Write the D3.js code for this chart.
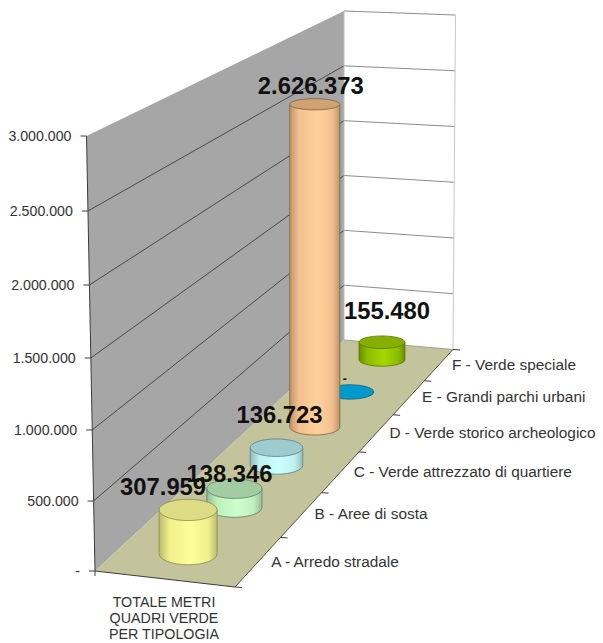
<!DOCTYPE html>
<html>
<head>
<meta charset="utf-8">
<script src="https://cdn.jsdelivr.net/npm/d3@7"></script>
<style>
html,body{margin:0;padding:0;background:#fff}
svg{display:block}
text{font-family:"Liberation Sans",Arial,sans-serif}
</style>
</head>
<body>
<svg id="chart" width="603" height="643"></svg>
<script>
// Square metres of urban green by type
const categories = [
  "A - Arredo stradale",
  "B - Aree di sosta",
  "C - Verde attrezzato di quartiere",
  "D - Verde storico archeologico",
  "E - Grandi parchi urbani",
  "F - Verde speciale"
];
const values = [307959, 138346, 136723, 2626373, 0, 155480];
const valueTicks = [0, 500000, 1000000, 1500000, 2000000, 2500000, 3000000];
const axisTitle = ["TOTALE METRI", "QUADRI VERDE", "PER TIPOLOGIA"];

// Cylinder palette: side highlight, side shadow, cap
const sideLight = ["#ffff99", "#ccffcc", "#ccffff", "#ffd09c", "#0099cc", "#a4d800"];
const sideMid   = ["#f0f08c", "#bdf0bd", "#bdf0f0", "#f2c08e", "#0099cc", "#8cbc00"];
const sideDark  = ["#bcbc70", "#94bc94", "#94bcbc", "#c0946a", "#0087b4", "#6a8e00"];
const capFill   = ["#dcdc84", "#a3cca3", "#9ecbd0", "#cfa274", "#0099cc", "#86b000"];
const edgeFill  = ["#8a8a50", "#5f7f5f", "#5f8080", "#7f6040", "#00648a", "#5a7400"];

const svg = d3.select("#chart");
const defs = svg.append("defs");

// Floor plane corners
const FL = [95, 571], FR = [235, 587], BR = [453, 349.5], BL = [344, 340];

// Projective map of the unit floor square onto the page
function makeFloor(p0, p1, p2, p3) {
  const dx1 = p1[0] - p2[0], dx2 = p3[0] - p2[0], sx = p0[0] - p1[0] + p2[0] - p3[0];
  const dy1 = p1[1] - p2[1], dy2 = p3[1] - p2[1], sy = p0[1] - p1[1] + p2[1] - p3[1];
  const den = dx1 * dy2 - dx2 * dy1;
  const g = (sx * dy2 - dx2 * sy) / den, h = (dx1 * sy - sx * dy1) / den;
  const a = p1[0] - p0[0] + g * p1[0], b = p3[0] - p0[0] + h * p3[0];
  const d = p1[1] - p0[1] + g * p1[1], e = p3[1] - p0[1] + h * p3[1];
  return (s, t) => {
    const w = g * s + h * t + 1;
    return { x: (a * s + b * t + p0[0]) / w, y: (d * s + e * t + p0[1]) / w, w };
  };
}
const floor = makeFloor(FL, FR, BR, BL);

// Wall edge scales
const leftY = d3.scaleLinear().domain(valueTicks).range([571, 501, 430, 358, 285, 211, 136]);
const leftX = d3.scaleLinear().domain([0, 3000000]).range([95, 86.5]);
const backY = d3.scaleLinear().domain([0, 3000000]).range([340, 11]);
const rightY = d3.scaleLinear().domain([0, 3000000]).range([349.5, 15]);
const rightX = d3.scaleLinear().domain([0, 3000000]).range([453, 455.5]);
const BACK_X = 344;

// Depth-dependent height of the full value range, from the perspective weight
const wBack = floor(0, 1).w;
const fullHeight = d3.scaleLinear().domain([1, 1 / wBack]).range([435, 329]);
const valueFrac = d3.scaleLinear().domain([0, 3000000]).range([0, 1]);

const locale = d3.formatLocale({ decimal: ",", thousands: ".", grouping: [3], currency: ["", ""] });
const fmt0 = locale.format(",d");
const fmt = v => v === 0 ? "-" : fmt0(v);

// Walls
svg.append("path")
  .attr("d", `M${leftX(0)},${leftY(0)}L${leftX(3e6)},${leftY(3e6)}L${BACK_X},${backY(3e6)}L${BACK_X},${backY(0)}Z`)
  .attr("fill", "#a6a6a6");
svg.append("path")
  .attr("d", `M${BACK_X},${backY(3e6)}L${rightX(3e6)},${rightY(3e6)}L${rightX(0)},${rightY(0)}L${BACK_X},${backY(0)}Z`)
  .attr("fill", "#ffffff");

// Floor
svg.append("path")
  .attr("d", `M${FL}L${FR}L${BR}L${BL}Z`)
  .attr("fill", "#c4c49c");

// Gridlines on both walls
const gridTicks = valueTicks.filter(v => v > 0);
svg.append("g").selectAll("line").data(gridTicks).join("line")
  .attr("x1", v => leftX(v)).attr("y1", v => leftY(v))
  .attr("x2", BACK_X).attr("y2", v => backY(v))
  .attr("stroke", v => v === 3e6 ? "none" : "#4a4a4a").attr("stroke-width", 1);
svg.append("g").selectAll("line").data(gridTicks).join("line")
  .attr("x1", BACK_X).attr("y1", v => backY(v))
  .attr("x2", v => rightX(v)).attr("y2", v => rightY(v))
  .attr("stroke", "#8c8c8c").attr("stroke-width", 1);
svg.append("line")
  .attr("x1", rightX(0)).attr("y1", rightY(0)).attr("x2", rightX(3e6)).attr("y2", rightY(3e6))
  .attr("stroke", "#c8c8c8");
svg.append("line")
  .attr("x1", BACK_X).attr("y1", backY(0)).attr("x2", BACK_X).attr("y2", backY(3e6))
  .attr("stroke", "#bdbdbd");
svg.append("line")
  .attr("x1", BACK_X).attr("y1", backY(0)).attr("x2", rightX(0)).attr("y2", rightY(0))
  .attr("stroke", "#a0a090");

// Value axis with its slanted spine
svg.append("line")
  .attr("x1", leftX(0)).attr("y1", leftY(0)).attr("x2", leftX(3e6)).attr("y2", leftY(3e6))
  .attr("stroke", "#3c3c3c");
const yAxis = svg.append("g");
yAxis.selectAll("line").data(valueTicks).join("line")
  .attr("x1", v => leftX(v) - 6).attr("y1", v => leftY(v))
  .attr("x2", v => leftX(v)).attr("y2", v => leftY(v))
  .attr("stroke", "#3c3c3c");
yAxis.selectAll("text").data(valueTicks).join("text")
  .attr("x", v => leftX(v) - 15).attr("y", v => leftY(v) + 5)
  .attr("text-anchor", "end").attr("font-size", 14.2).attr("fill", "#333")
  .text(fmt);

// Floor edges and their ticks
const depthStops = d3.range(0, 7).map(i => i / 6);
svg.append("line").attr("x1", FL[0]).attr("y1", FL[1]).attr("x2", FR[0]).attr("y2", FR[1]).attr("stroke", "#3c3c3c");
svg.append("line").attr("x1", FR[0]).attr("y1", FR[1]).attr("x2", BR[0]).attr("y2", BR[1]).attr("stroke", "#55553c");
svg.append("g").selectAll("line").data(depthStops).join("line")
  .attr("x1", t => floor(1, t).x).attr("y1", t => floor(1, t).y)
  .attr("x2", t => floor(1, t).x + 7).attr("y2", t => floor(1, t).y + 0.5)
  .attr("stroke", "#3c3c3c");
svg.append("line").attr("x1", FL[0]).attr("y1", FL[1]).attr("x2", FL[0]).attr("y2", FL[1] + 5).attr("stroke", "#3c3c3c");

// Cylinders, drawn from the back of the floor towards the front
const cylinders = values.map((v, i) => {
  const t = (i + 0.5) / 6;
  const p = floor(0.49, t);
  const full = fullHeight(1 / p.w);
  const rx = full * 0.068;
  const tilt = 0.39 - 0.12 * t;
  return {
    i, v, x: p.x, y: p.y,
    h: valueFrac(v) * full,
    rx,
    ryBase: rx * tilt,
    ryTop: rx * tilt * (1 - 0.3 * v / 2626373)
  };
});

cylinders.forEach(c => {
  const id = `side${c.i}`;
  const grad = defs.append("linearGradient").attr("id", id);
  grad.append("stop").attr("offset", "0%").attr("stop-color", sideDark[c.i]);
  grad.append("stop").attr("offset", "18%").attr("stop-color", sideMid[c.i]);
  grad.append("stop").attr("offset", "55%").attr("stop-color", sideLight[c.i]);
  grad.append("stop").attr("offset", "85%").attr("stop-color", sideMid[c.i]);
  grad.append("stop").attr("offset", "100%").attr("stop-color", sideDark[c.i]);
});

const cylLayer = svg.append("g");
cylinders.slice().reverse().forEach(c => {
  const g = cylLayer.append("g");
  const top = c.y - c.h;
  if (c.v > 0) {
    g.append("path")
      .attr("d", `M${c.x - c.rx},${top}L${c.x - c.rx},${c.y}` +
        `A${c.rx},${c.ryBase} 0 0 0 ${c.x + c.rx},${c.y}L${c.x + c.rx},${top}Z`)
      .attr("fill", `url(#side${c.i})`)
      .attr("stroke", edgeFill[c.i]).attr("stroke-width", 0.8);
  }
  g.append("ellipse")
    .attr("cx", c.x).attr("cy", top).attr("rx", c.rx).attr("ry", c.ryTop)
    .attr("fill", capFill[c.i])
    .attr("stroke", edgeFill[c.i]).attr("stroke-width", 0.8);
});

// Value labels, nudged clear of their cylinders
const labelNudge = [[-25, -15], [-5, -7], [3, -25], [-4, -10], [-5, -9], [5, -23]];
svg.append("g").selectAll("text").data(cylinders).join("text")
  .attr("x", c => c.x + labelNudge[c.i][0])
  .attr("y", c => c.y - c.h + labelNudge[c.i][1])
  .attr("text-anchor", "middle")
  .attr("font-weight", "bold")
  .attr("font-size", c => c.v === 0 ? 12 : 23.8)
  .attr("fill", "#111")
  .text(c => fmt(c.v));

// Category labels beside the floor's right edge
svg.append("g").selectAll("text").data(categories).join("text")
  .attr("x", (d, i) => floor(1, (i + 0.5) / 6).x + 13)
  .attr("y", (d, i) => floor(1, (i + 0.5) / 6).y + 5)
  .attr("font-size", 15.4).attr("fill", "#333")
  .text(d => d);

// Title under the front edge
svg.append("g").selectAll("text").data(axisTitle).join("text")
  .attr("x", 164).attr("y", (d, i) => 607 + i * 16)
  .attr("text-anchor", "middle").attr("font-size", 14.3).attr("fill", "#333")
  .text(d => d);
</script>
</body>
</html>
